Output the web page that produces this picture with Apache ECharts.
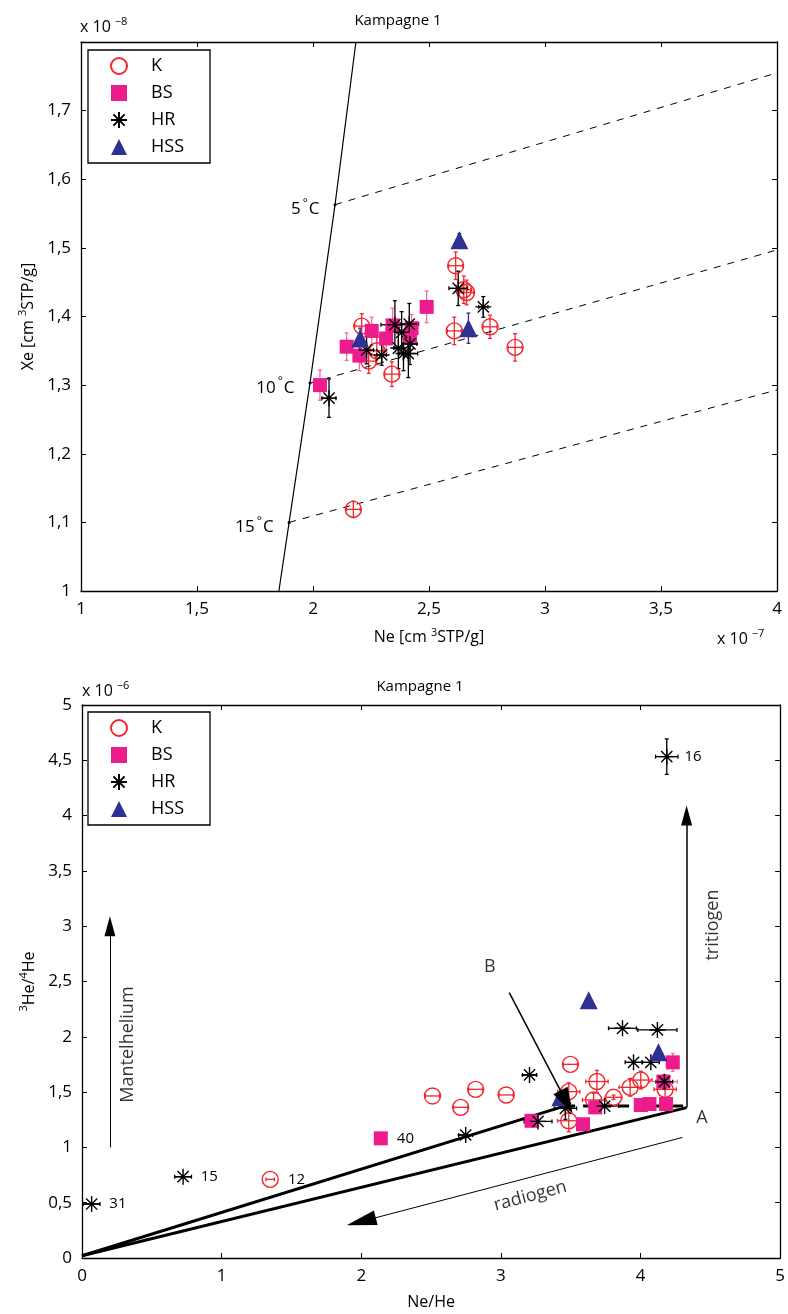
<!DOCTYPE html>
<html>
<head>
<meta charset="utf-8">
<script src="https://cdn.jsdelivr.net/npm/echarts@6/dist/echarts.min.js"></script>
<style>
  html, body { margin: 0; padding: 0; background: #fff; }
  #chart { width: 788px; height: 1314px; }
</style>
</head>
<body>
<div id="chart"></div>
<script>
// ---- top panel: Ne vs Xe, rows are [Ne, Xe, NeErr, XeErr] ----
const kTop = [
    [2.21, 1.386, 0.03, 0.018], [2.24, 1.335, 0.03, 0.018], [2.275, 1.35, 0.03, 0.02],
    [2.34, 1.316, 0.03, 0.018], [2.174, 1.119, 0.03, 0.012], [2.615, 1.474, 0.03, 0.02],
    [2.65, 1.439, 0.03, 0.02], [2.662, 1.435, 0.03, 0.018], [2.609, 1.379, 0.03, 0.02],
    [2.763, 1.385, 0.03, 0.017], [2.871, 1.355, 0.03, 0.02]
];
const bsTop = [
    [2.49, 1.414, 0.02, 0.023], [2.253, 1.379, 0.02, 0.02], [2.315, 1.368, 0.02, 0.02],
    [2.145, 1.356, 0.02, 0.02], [2.2, 1.343, 0.02, 0.022], [2.03, 1.30, 0.02, 0.022],
    [2.343, 1.387, 0.02, 0.025], [2.425, 1.383, 0.02, 0.02], [2.418, 1.371, 0.02, 0.02]
];
const hrTop = [
    [2.626, 1.441, 0.04, 0.025], [2.734, 1.414, 0.02, 0.015], [2.353, 1.388, 0.06, 0.035],
    [2.415, 1.389, 0.04, 0.03], [2.382, 1.377, 0.02, 0.03], [2.231, 1.351, 0.03, 0.02],
    [2.296, 1.344, 0.02, 0.015], [2.368, 1.354, 0.02, 0.03], [2.39, 1.346, 0.02, 0.025],
    [2.411, 1.346, 0.04, 0.035], [2.418, 1.36, 0.03, 0.03], [2.069, 1.281, 0.03, 0.028]
];
const hssTop = [
    [2.631, 1.511, 0, 0.01], [2.67, 1.383, 0, 0.022], [2.203, 1.368, 0, 0.015]
];
// equilibrium line and temperature lines
const eqNe = [1.853, 1.897, 1.987, 2.095, 2.185];
const eqXe = [1.0, 1.1, 1.303, 1.563, 1.8];
const tempNames = ['5', '10', '15'];
const tempStart = [[2.095, 1.563], [1.987, 1.303], [1.897, 1.10]];
const tempEnd = [[4.0, 1.755], [4.0, 1.497], [4.0, 1.293]];

// ---- bottom panel: Ne/He vs 3He/4He, rows are [x, y, xErr, yErr] ----
const kBot = [
    [2.51, 1.465, 0.05, 0], [2.712, 1.362, 0.05, 0], [2.819, 1.525, 0.05, 0],
    [3.038, 1.474, 0.05, 0], [3.498, 1.751, 0.05, 0], [3.486, 1.504, 0.08, 0.08],
    [3.486, 1.241, 0.08, 0.1], [3.688, 1.596, 0.08, 0.1], [3.664, 1.429, 0.08, 0.06],
    [3.807, 1.453, 0.06, 0.02], [3.926, 1.543, 0.08, 0.08], [4.002, 1.609, 0.08, 0.08],
    [4.176, 1.525, 0.08, 0.08], [1.348, 0.711, 0.03, 0]
];
const bsBot = [
    [2.14, 1.082, 0, 0.03], [3.219, 1.241, 0, 0], [3.588, 1.209, 0, 0],
    [3.676, 1.362, 0, 0], [4.002, 1.383, 0, 0], [4.064, 1.392, 0, 0],
    [4.183, 1.392, 0, 0], [4.231, 1.769, 0, 0.08], [4.164, 1.595, 0.1, 0]
];
const hrBot = [
    [4.188, 4.533, 0.08, 0.16], [0.069, 0.488, 0.06, 0], [0.724, 0.735, 0.06, 0],
    [2.748, 1.112, 0.05, 0], [3.205, 1.655, 0.05, 0], [3.266, 1.235, 0.1, 0],
    [3.462, 1.353, 0.08, 0.1], [3.743, 1.374, 0.1, 0], [3.871, 2.077, 0.1, 0],
    [4.121, 2.062, 0.14, 0], [3.95, 1.769, 0.06, 0], [4.074, 1.769, 0.06, 0],
    [4.171, 1.594, 0.06, 0.06]
];
const hssBot = [
    [3.629, 2.33, 0, 0], [4.129, 1.86, 0, 0], [3.426, 1.453, 0, 0]
];
// sample numbers written next to some points: [index, text]
const kBotNotes = [[13, '12']];
const bsBotNotes = [[0, '40']];
const hrBotNotes = [[0, '16'], [1, '31'], [2, '15']];

// mixing lines and arrows
const originPt = [0, 0.02];
const bPt = [3.46, 1.375];
const aPt = [4.33, 1.36];
const tritArrow = [[4.33, 1.36], [4.33, 4.0]];
const mantelArrow = [[0.2, 1.0], [0.2, 3.0]];
const bArrow = [[3.06, 2.4], [3.47, 1.41]];
const radioArrow = [[4.3, 1.09], [2.0, 0.33]];

const RED = '#f2262c', PINK = '#ec1c8c', NAVY = '#2e3192', BLACK = '#000';
const FONT = 'Open Sans';
const STAR = 'path://M0,5L10,5M5,0L5,10M1.5,1.5L8.5,8.5M1.5,8.5L8.5,1.5';

const comma = v => String(+v.toFixed(2)).replace('.', ',');

function errorBars(rows, color, gi) {
    return {
        type: 'custom', xAxisIndex: gi * 2, yAxisIndex: gi * 2, silent: true, z: 2,
        data: rows,
        renderItem: function (params, api) {
            const x = api.value(0), y = api.value(1), ex = api.value(2), ey = api.value(3);
            const style = { stroke: color, lineWidth: 1.3 };
            const kids = [];
            if (ey > 0) {
                const a = api.coord([x, y + ey]), b = api.coord([x, y - ey]);
                kids.push({ type: 'line', shape: { x1: a[0], y1: a[1], x2: b[0], y2: b[1] }, style });
                kids.push({ type: 'line', shape: { x1: a[0] - 2, y1: a[1], x2: a[0] + 2, y2: a[1] }, style });
                kids.push({ type: 'line', shape: { x1: b[0] - 2, y1: b[1], x2: b[0] + 2, y2: b[1] }, style });
            }
            if (ex > 0) {
                const l = api.coord([x - ex, y]), r = api.coord([x + ex, y]);
                kids.push({ type: 'line', shape: { x1: l[0], y1: l[1], x2: r[0], y2: r[1] }, style });
                kids.push({ type: 'line', shape: { x1: l[0], y1: l[1] - 2, x2: l[0], y2: l[1] + 2 }, style });
                kids.push({ type: 'line', shape: { x1: r[0], y1: r[1] - 2, x2: r[0], y2: r[1] + 2 }, style });
            }
            return { type: 'group', children: kids };
        }
    };
}

function points(name, rows, gi, symbol, size, itemStyle, notes) {
    const data = rows.map(r => ({ value: [r[0], r[1]] }));
    (notes || []).forEach(([i, txt]) => {
        data[i].label = { show: true, formatter: txt, position: 'right', distance: 9,
            fontSize: 15, fontFamily: FONT, color: '#000' };
    });
    return {
        name, type: 'scatter', xAxisIndex: gi * 2, yAxisIndex: gi * 2, z: 3,
        symbol, symbolSize: size, itemStyle, data
    };
}

const kStyle = { color: 'rgba(0,0,0,0)', borderColor: RED, borderWidth: 1.4, opacity: 1 };
const bsStyle = { color: PINK, opacity: 1 };
const hrStyle = { color: 'rgba(0,0,0,0)', borderColor: BLACK, borderWidth: 1.4, opacity: 1 };
const hssStyle = { color: NAVY, opacity: 1 };

const series = [];
// top panel
series.push({
    type: 'line', xAxisIndex: 0, yAxisIndex: 0, showSymbol: false, silent: true,
    lineStyle: { color: BLACK, width: 1.2 },
    data: eqNe.map((v, i) => [v, eqXe[i]])
});
tempStart.forEach((s, i) => series.push({
    type: 'line', xAxisIndex: 0, yAxisIndex: 0, showSymbol: false, silent: true,
    lineStyle: { color: BLACK, width: 1, type: [7, 7] },
    data: [s, tempEnd[i]]
}));
series.push({
    type: 'scatter', xAxisIndex: 0, yAxisIndex: 0, silent: true, symbolSize: 3,
    itemStyle: { color: BLACK, opacity: 1 },
    data: tempStart.map((s, i) => ({
        value: s,
        label: {
            show: true, position: 'left', distance: 14, offset: [0, 5],
            formatter: tempNames[i] + '{s|°}C', fontSize: 17, fontFamily: FONT, color: '#000',
            rich: { s: { fontSize: 12, padding: [0, 1, 12, 2], fontFamily: FONT, color: '#000' } }
        }
    }))
});
series.push(errorBars(kTop, RED, 0), points('K', kTop, 0, 'circle', 16, kStyle));
series.push(errorBars(bsTop, '#f26aa8', 0), points('BS', bsTop, 0, 'rect', 14, bsStyle));
series.push(errorBars(hrTop, BLACK, 0), points('HR', hrTop, 0, STAR, 16, hrStyle));
series.push(errorBars(hssTop, NAVY, 0), points('HSS', hssTop, 0, 'triangle', 18, hssStyle));

// bottom panel
[[originPt, bPt], [originPt, aPt]].forEach(seg => series.push({
    type: 'line', xAxisIndex: 2, yAxisIndex: 2, showSymbol: false, silent: true,
    lineStyle: { color: BLACK, width: 3 }, data: seg
}));
series.push({
    type: 'line', xAxisIndex: 2, yAxisIndex: 2, showSymbol: false, silent: true,
    lineStyle: { color: BLACK, width: 3, type: [10, 8] },
    data: [bPt, [aPt[0], bPt[1]]]
});
series.push({
    type: 'lines', coordinateSystem: 'cartesian2d', xAxisIndex: 2, yAxisIndex: 2, silent: true, z: 4,
    symbol: ['none', 'triangle'],
    data: [
        { coords: tritArrow, symbolSize: [0, [11, 20]], lineStyle: { width: 1.5 } },
        { coords: mantelArrow, symbolSize: [0, [11, 20]], lineStyle: { width: 1 } },
        { coords: bArrow, symbolSize: [0, [16, 26]], lineStyle: { width: 1.5 } },
        { coords: radioArrow, symbolSize: [0, [15, 30]], lineStyle: { width: 1 } }
    ],
    lineStyle: { color: BLACK, opacity: 1, curveness: 0 },
    itemStyle: { color: BLACK }
});
series.push(errorBars(kBot, RED, 1), points('K', kBot, 1, 'circle', 16, kStyle, kBotNotes));
series.push(errorBars(bsBot, '#f26aa8', 1), points('BS', bsBot, 1, 'rect', 14, bsStyle, bsBotNotes));
series.push(errorBars(hrBot, BLACK, 1), points('HR', hrBot, 1, STAR, 16, hrStyle, hrBotNotes));
series.push(errorBars(hssBot, NAVY, 1), points('HSS', hssBot, 1, 'triangle', 18, hssStyle));

// text notes on the bottom panel
const noteText = ['B', 'A', 'tritiogen', 'Mantelhelium', 'radiogen'];
const notePos = [[2.92, 2.63], [4.44, 1.27], [4.52, 3.01], [0.33, 1.93], [3.21, 0.56]];
const noteRot = [0, 0, 90, 90, 15];
series.push({
    type: 'scatter', xAxisIndex: 2, yAxisIndex: 2, silent: true, symbolSize: 0,
    data: noteText.map((t, i) => ({
        value: notePos[i],
        label: { show: true, position: 'inside', formatter: t, rotate: noteRot[i],
            fontSize: 18, fontFamily: FONT, color: '#000' }
    }))
});

function axisPair(gi, min, max, interval, name, nameGap, isX) {
    const base = {
        type: 'value', gridIndex: gi, min, max, interval,
        splitLine: { show: false },
        axisLine: { onZero: false, lineStyle: { color: BLACK, width: 1.3 } },
        axisTick: { inside: true, length: 5, lineStyle: { color: BLACK } }
    };
    const main = Object.assign({}, base, {
        position: isX ? 'bottom' : 'left',
        name, nameLocation: 'middle', nameGap,
        nameTextStyle: { fontSize: 16, fontFamily: FONT, color: '#000',
            rich: { s: { fontSize: 11, padding: [0, 0, 10, 0], fontFamily: FONT, color: '#000' } } },
        axisLabel: { formatter: comma, fontSize: 17, fontFamily: FONT, color: '#000', margin: 10,
            showMaxLabel: !(isX === false && gi === 0) }
    });
    const mirror = Object.assign({}, base, {
        position: isX ? 'top' : 'right', axisLabel: { show: false }
    });
    return [main, mirror];
}

function legendAt(top) {
    return {
        data: ['K', 'BS', 'HR', 'HSS'], orient: 'vertical', left: 88, top,
        padding: [7, 26, 7, 22], itemGap: 9, itemWidth: 16, itemHeight: 16,
        borderColor: BLACK, borderWidth: 1.3, backgroundColor: '#fff', borderRadius: 0,
        textStyle: { fontSize: 18, fontFamily: FONT, color: '#000', padding: [0, 0, 0, 19] }
    };
}

const option = {
    backgroundColor: '#fff',
    animation: false,
    title: [
        { text: 'Kampagne 1', left: 393, top: 8, textAlign: 'center',
          textStyle: { fontSize: 15, fontWeight: 'normal', fontFamily: FONT, color: '#000' } },
        { text: 'Kampagne 1', left: 415, top: 674, textAlign: 'center',
          textStyle: { fontSize: 15, fontWeight: 'normal', fontFamily: FONT, color: '#000' } }
    ],
    legend: [legendAt(50), legendAt(712)],
    grid: [
        { left: 81, top: 42, width: 696, height: 549 },
        { left: 82, top: 705, width: 700, height: 553 }
    ],
    xAxis: [
        ...axisPair(0, 1, 4, 0.5, 'Ne [cm {s|3}STP/g]', 36, true),
        ...axisPair(1, 0, 5, 1, 'Ne/He', 36, true)
    ],
    yAxis: [
        ...axisPair(0, 1, 1.8, 0.1, 'Xe [cm {s|3}STP/g]', 42, false),
        ...axisPair(1, 0, 5, 0.5, '{s|3}He/{s|4}He', 42, false)
    ],
    graphic: [
        { type: 'text', left: 80, top: 16, style: { text: 'x 10{s|−8}', fontSize: 16, fontFamily: FONT, fill: '#000',
          rich: { s: { fontSize: 11, padding: [0, 0, 12, 4], fontFamily: FONT } } } },
        { type: 'text', left: 717, top: 628, style: { text: 'x 10{s|−7}', fontSize: 16, fontFamily: FONT, fill: '#000',
          rich: { s: { fontSize: 11, padding: [0, 0, 12, 4], fontFamily: FONT } } } },
        { type: 'text', left: 82, top: 680, style: { text: 'x 10{s|−6}', fontSize: 16, fontFamily: FONT, fill: '#000',
          rich: { s: { fontSize: 11, padding: [0, 0, 12, 4], fontFamily: FONT } } } }
    ],
    series
};

const chart = echarts.init(document.getElementById('chart'));
chart.setOption(option);
</script>
</body>
</html>
